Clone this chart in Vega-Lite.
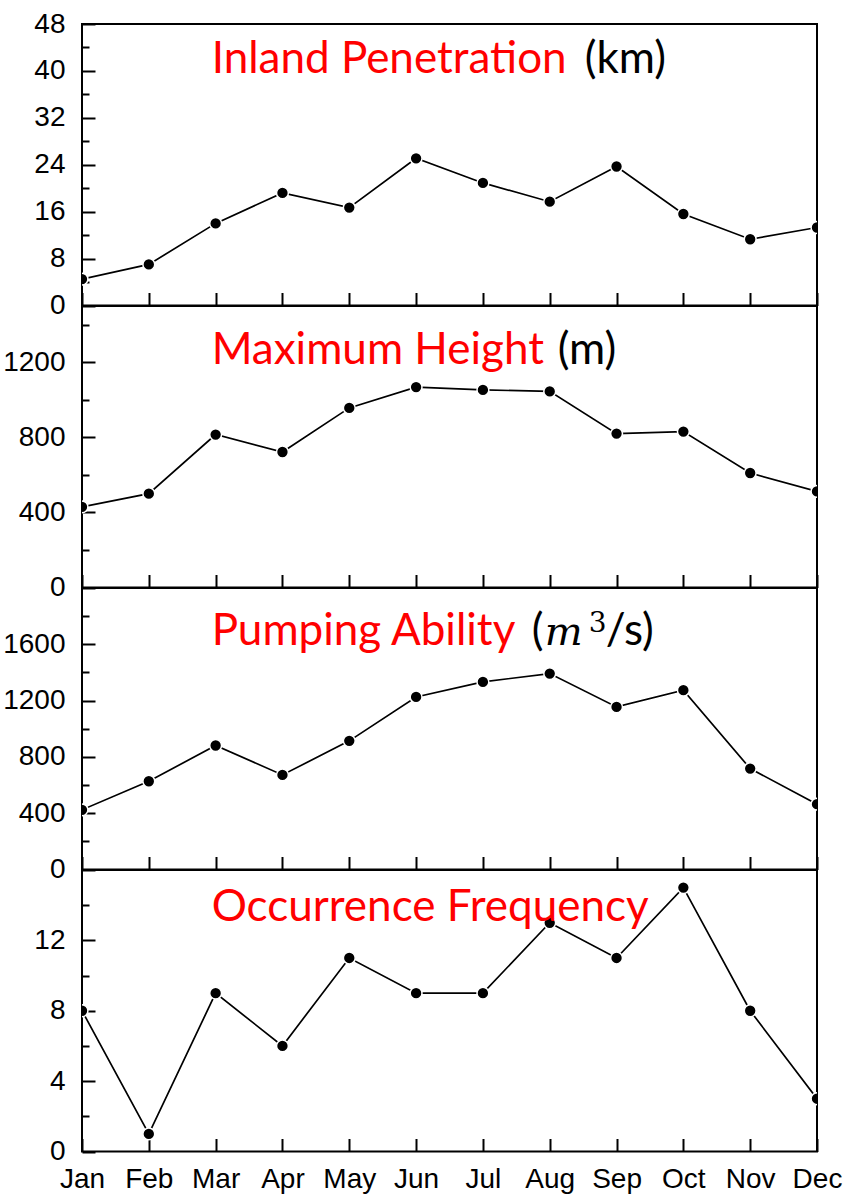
{
  "$schema": "https://vega.github.io/schema/vega-lite/v6.json",
  "padding": {"left": 1, "top": 9, "right": 5, "bottom": 5},
  "background": "white",
  "spacing": 0,
  "bounds": "flush",
  "config": {
    "view": {"stroke": "black", "strokeWidth": 2},
    "axis": {
      "domain": false,
      "grid": false,
      "labelFont": "Liberation Sans",
      "labelFontSize": 28,
      "labelColor": "black",
      "tickColor": "black",
      "tickWidth": 2,
      "labelOverlap": false,
      "title": null
    },
    "text": {"font": "Lato", "fontSize": 44, "align": "left", "baseline": "alphabetic"}
  },
  "datasets": {
    "monthly": [
      {"month": "Jan", "inland": 4.5, "height": 430, "pump": 424, "freq": 8},
      {"month": "Feb", "inland": 7.0, "height": 500, "pump": 627, "freq": 1},
      {"month": "Mar", "inland": 14.0, "height": 815, "pump": 881, "freq": 9},
      {"month": "Apr", "inland": 19.2, "height": 722, "pump": 672, "freq": 6},
      {"month": "May", "inland": 16.7, "height": 957, "pump": 914, "freq": 11},
      {"month": "Jun", "inland": 25.1, "height": 1068, "pump": 1226, "freq": 9},
      {"month": "Jul", "inland": 20.9, "height": 1053, "pump": 1333, "freq": 9},
      {"month": "Aug", "inland": 17.7, "height": 1045, "pump": 1392, "freq": 13},
      {"month": "Sep", "inland": 23.7, "height": 820, "pump": 1155, "freq": 11},
      {"month": "Oct", "inland": 15.6, "height": 831, "pump": 1274, "freq": 15},
      {"month": "Nov", "inland": 11.3, "height": 610, "pump": 717, "freq": 8},
      {"month": "Dec", "inland": 13.3, "height": 512, "pump": 464, "freq": 3}
    ]
  },
  "vconcat": [
    {
      "width": 735,
      "height": 281.5,
      "data": {"name": "monthly"},
      "resolve": {"axis": {"y": "independent"}},
      "encoding": {
        "x": {
          "field": "month", "type": "ordinal",
          "scale": {"type": "point", "padding": 0, "domain": ["Jan","Feb","Mar","Apr","May","Jun","Jul","Aug","Sep","Oct","Nov","Dec"]},
          "axis": {"labels": false, "tickSize": -13}
        }
      },
      "layer": [
        {
          "mark": {"type": "line", "color": "black", "strokeWidth": 1.7, "clip": true},
          "encoding": {"y": {"field": "inland", "type": "quantitative", "scale": {"domain": [0, 48], "nice": false, "zero": false},
            "axis": {"orient": "left", "values": [0,8,16,24,32,40,48], "format": "d", "tickSize": -13, "labelPadding": 30}}}
        },
        {
          "mark": {"type": "circle", "color": "black", "opacity": 1, "size": 140, "stroke": "white", "strokeWidth": 1.5, "clip": true},
          "encoding": {"y": {"field": "inland", "type": "quantitative",
            "axis": {"orient": "left", "values": [4,12,20,28,36,44], "labels": false, "tickSize": -7}}}
        },
        {
          "transform": [{"filter": "datum.month === 'Mar'"}],
          "mark": {"type": "text", "color": "#ff0000", "dx": -4, "text": "Inland Penetration"},
          "encoding": {"y": {"datum": 39.6, "axis": null}}
        },
        {
          "transform": [{"filter": "datum.month === 'Aug'"}],
          "mark": {"type": "text", "color": "black", "dx": 35, "text": "(km)"},
          "encoding": {"y": {"datum": 39.6, "axis": null}}
        }
      ]
    },
    {
      "width": 735,
      "height": 281.5,
      "data": {"name": "monthly"},
      "resolve": {"axis": {"y": "independent"}},
      "encoding": {
        "x": {
          "field": "month", "type": "ordinal",
          "scale": {"type": "point", "padding": 0, "domain": ["Jan","Feb","Mar","Apr","May","Jun","Jul","Aug","Sep","Oct","Nov","Dec"]},
          "axis": {"labels": false, "tickSize": -13}
        }
      },
      "layer": [
        {
          "mark": {"type": "line", "color": "black", "strokeWidth": 1.7, "clip": true},
          "encoding": {"y": {"field": "height", "type": "quantitative", "scale": {"domain": [0, 1500], "nice": false, "zero": false},
            "axis": {"orient": "left", "values": [0,400,800,1200], "format": "d", "tickSize": -13, "labelPadding": 30}}}
        },
        {
          "mark": {"type": "circle", "color": "black", "opacity": 1, "size": 140, "stroke": "white", "strokeWidth": 1.5, "clip": true},
          "encoding": {"y": {"field": "height", "type": "quantitative",
            "axis": {"orient": "left", "values": [200,600,1000,1400], "labels": false, "tickSize": -7}}}
        },
        {
          "transform": [{"filter": "datum.month === 'Mar'"}],
          "mark": {"type": "text", "color": "#ff0000", "dx": -4, "text": "Maximum Height"},
          "encoding": {"y": {"datum": 1192, "axis": null}}
        },
        {
          "transform": [{"filter": "datum.month === 'Aug'"}],
          "mark": {"type": "text", "color": "black", "dx": 8, "text": "(m)"},
          "encoding": {"y": {"datum": 1192, "axis": null}}
        }
      ]
    },
    {
      "width": 735,
      "height": 281.5,
      "data": {"name": "monthly"},
      "resolve": {"axis": {"y": "independent"}},
      "encoding": {
        "x": {
          "field": "month", "type": "ordinal",
          "scale": {"type": "point", "padding": 0, "domain": ["Jan","Feb","Mar","Apr","May","Jun","Jul","Aug","Sep","Oct","Nov","Dec"]},
          "axis": {"labels": false, "tickSize": -13}
        }
      },
      "layer": [
        {
          "mark": {"type": "line", "color": "black", "strokeWidth": 1.7, "clip": true},
          "encoding": {"y": {"field": "pump", "type": "quantitative", "scale": {"domain": [0, 2000], "nice": false, "zero": false},
            "axis": {"orient": "left", "values": [0,400,800,1200,1600], "format": "d", "tickSize": -13, "labelPadding": 30}}}
        },
        {
          "mark": {"type": "circle", "color": "black", "opacity": 1, "size": 140, "stroke": "white", "strokeWidth": 1.5, "clip": true},
          "encoding": {"y": {"field": "pump", "type": "quantitative",
            "axis": {"orient": "left", "values": [200,600,1000,1400,1800], "labels": false, "tickSize": -7}}}
        },
        {
          "transform": [{"filter": "datum.month === 'Mar'"}],
          "mark": {"type": "text", "color": "#ff0000", "dx": -4, "text": "Pumping Ability"},
          "encoding": {"y": {"datum": 1598, "axis": null}}
        },
        {
          "transform": [{"filter": "datum.month === 'Aug'"}],
          "mark": {"type": "text", "color": "black", "dx": -18, "text": "("},
          "encoding": {"y": {"datum": 1598, "axis": null}}
        },
        {
          "transform": [{"filter": "datum.month === 'Aug'"}],
          "mark": {"type": "text", "color": "black", "dx": -5, "font": "DejaVu Serif", "fontStyle": "italic", "fontSize": 40, "text": "m"},
          "encoding": {"y": {"datum": 1598, "axis": null}}
        },
        {
          "transform": [{"filter": "datum.month === 'Aug'"}],
          "mark": {"type": "text", "color": "black", "dx": 39, "dy": -13, "font": "DejaVu Serif", "fontSize": 28, "text": "3"},
          "encoding": {"y": {"datum": 1598, "axis": null}}
        },
        {
          "transform": [{"filter": "datum.month === 'Aug'"}],
          "mark": {"type": "text", "color": "black", "dx": 56, "text": "/s)"},
          "encoding": {"y": {"datum": 1598, "axis": null}}
        }
      ]
    },
    {
      "width": 735,
      "height": 281.5,
      "data": {"name": "monthly"},
      "resolve": {"axis": {"y": "independent"}},
      "encoding": {
        "x": {
          "field": "month", "type": "ordinal",
          "scale": {"type": "point", "padding": 0, "domain": ["Jan","Feb","Mar","Apr","May","Jun","Jul","Aug","Sep","Oct","Nov","Dec"]},
          "axis": {"labelAngle": 0, "labelPadding": 27, "tickSize": -13}
        }
      },
      "layer": [
        {
          "mark": {"type": "line", "color": "black", "strokeWidth": 1.7, "clip": true},
          "encoding": {"y": {"field": "freq", "type": "quantitative", "scale": {"domain": [0, 16], "nice": false, "zero": false},
            "axis": {"orient": "left", "values": [0,4,8,12], "format": "d", "tickSize": -13, "labelPadding": 30}}}
        },
        {
          "mark": {"type": "circle", "color": "black", "opacity": 1, "size": 140, "stroke": "white", "strokeWidth": 1.5, "clip": true},
          "encoding": {"y": {"field": "freq", "type": "quantitative",
            "axis": {"orient": "left", "values": [2,6,10,14], "labels": false, "tickSize": -7}}}
        },
        {
          "transform": [{"filter": "datum.month === 'Mar'"}],
          "mark": {"type": "text", "color": "#ff0000", "dx": -4, "text": "Occurrence Frequency"},
          "encoding": {"y": {"datum": 13.1, "axis": null}}
        }
      ]
    }
  ]
}
